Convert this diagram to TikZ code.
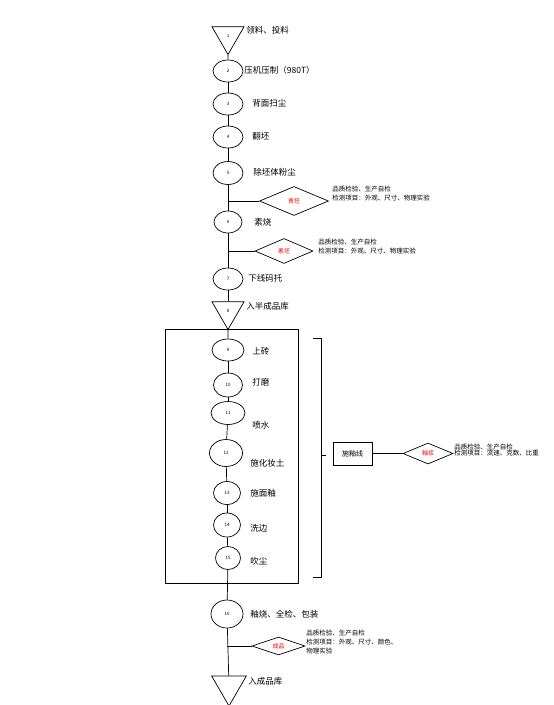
\documentclass[tikz,border=0pt]{standalone}
\usepackage{fontspec}
\setmainfont{Noto Sans CJK SC}
\usetikzlibrary{shapes.geometric,positioning}
\definecolor{checkred}{HTML}{FF0000}

\tikzset{
  stepnode/.style={draw,ellipse,inner sep=0pt,minimum width=30pt,minimum height=22pt,font=\fontsize{4.5}{5}\selectfont},
  storenode/.style={draw,regular polygon,regular polygon sides=3,shape border rotate=180,inner sep=0pt,minimum size=37pt,font=\fontsize{4.5}{5}\selectfont},
  checknode/.style={draw,diamond,inner sep=0pt,text=checkred,font=\fontsize{6}{6}\selectfont},
  steplabel/.style={anchor=west,inner sep=0pt,font=\fontsize{8.5}{9}\selectfont},
  checklabel/.style={anchor=west,align=left,inner sep=0pt,font=\fontsize{6.5}{9}\selectfont},
}

\begin{document}
\begin{tikzpicture}[x=1pt,y=-1pt,line width=0.7pt]
  \useasboundingbox (0,0) rectangle (554,705);

  % glaze line frame and bracket
  \node[draw,minimum width=133pt,minimum height=254pt] (glazeframe) at (231.5,456) {};
  \draw (313,338) -- (321,338) -- (321,577) -- (313,577);
  \draw (321,455) -- (326,455);
  \node[draw,minimum width=39pt,minimum height=23pt,inner sep=0pt,font=\fontsize{7}{8}\selectfont] (glazeline) at (352.5,453.5) {施釉线};

  % steps
  \node[storenode] (t1) at (228,36) {1};
  \node[stepnode] (c2) at (228,71) {2};
  \node[stepnode] (c3) at (228,104) {3};
  \node[stepnode] (c4) at (228,137) {4};
  \node[stepnode,minimum height=23pt] (c5) at (228,173) {5};
  \node[stepnode,minimum width=28pt] (c6) at (228,222) {6};
  \node[stepnode] (c7) at (228,279) {7};
  \node[storenode] (t8) at (228,311) {8};
  \node[stepnode,minimum width=32pt] (c9) at (228,350) {9};
  \node[stepnode,minimum width=29pt,minimum height=24pt] (c10) at (228,385) {10};
  \node[stepnode,minimum width=34pt,minimum height=23pt] (c11) at (228,413) {11};
  \node[stepnode,minimum width=33pt,minimum height=27pt] (c12) at (226,453) {12};
  \node[stepnode,minimum width=27pt,minimum height=23pt] (c13) at (227,493) {13};
  \node[stepnode,minimum width=27pt,minimum height=24pt] (c14) at (227,525) {14};
  \node[stepnode,minimum width=25pt,minimum height=23pt] (c15) at (228,558) {15};
  \node[stepnode,minimum width=32pt,minimum height=28pt] (c16) at (227,614) {16};
  \node[storenode,minimum size=40pt] (t17) at (229,686) {};

  % main flow
  \draw (t1) -- (c2);
  \draw (c2) -- (c3);
  \draw (c3) -- (c4);
  \draw (c4) -- (c5);
  \draw (c5) -- (c6);
  \draw (c6) -- (c7);
  \draw (c7) -- (t8);
  \draw (t8) -- (c9);
  \draw (c9) -- (c10);
  \draw (c10) -- (c11);
  \draw (c11) -- (c12);
  \draw (c12) -- (c13);
  \draw (c13) -- (c14);
  \draw (c14) -- (c15);
  \draw (c15) -- (c16);
  \draw (c16) -- (t17);

  % step labels
  \node[steplabel] at (246,30) {领料、投料};
  \node[steplabel] at (244,70) {压机压制（980T）};
  \node[steplabel] at (252,103) {背面扫尘};
  \node[steplabel] at (252,136) {翻坯};
  \node[steplabel] at (253,172) {除坯体粉尘};
  \node[steplabel] at (254,222) {素烧};
  \node[steplabel] at (248,278) {下线码托};
  \node[steplabel] at (246,306) {入半成品库};
  \node[steplabel] at (252,351) {上砖};
  \node[steplabel] at (252,382) {打磨};
  \node[steplabel] at (252,425) {喷水};
  \node[steplabel] at (250,463) {施化妆土};
  \node[steplabel] at (250,493) {施面釉};
  \node[steplabel] at (250,528) {洗边};
  \node[steplabel] at (250,561) {吹尘};
  \node[steplabel] at (250,614) {釉烧、全检、包装};
  \node[steplabel] at (248,681) {入成品库};

  % checks
  \node[checknode,minimum width=69pt,minimum height=29pt] (d1) at (294,201) {青坯};
  \draw (d1.west) -- (d1.west -| c5);
  \node[checklabel] at (332,194) {品质检验、生产自检\\检测项目：外观、尺寸、物理实验};

  \node[checknode,minimum width=58pt,minimum height=25pt] (d2) at (284,251) {素坯};
  \draw (d2.west) -- (d2.west -| c6);
  \node[checklabel] at (318,247) {品质检验、生产自检\\检测项目：外观、尺寸、物理实验};

  \node[checknode,minimum width=50pt,minimum height=21pt] (d3) at (428,453.5) {釉浆};
  \draw (glazeline.east) -- (d3.west);
  \node[checklabel,font=\fontsize{6.5}{6.5}\selectfont] at (454,450) {品质检验、生产自检\\检测项目：流速、克数、比重};

  \node[checknode,minimum width=53pt,minimum height=18pt] (d4) at (278.5,646) {成品};
  \draw (d4.west) -- (d4.west -| c16);
  \node[checklabel] at (306,642) {品质检验、生产自检\\检测项目：外观、尺寸、颜色、\\物理实验};
\end{tikzpicture}
\end{document}
